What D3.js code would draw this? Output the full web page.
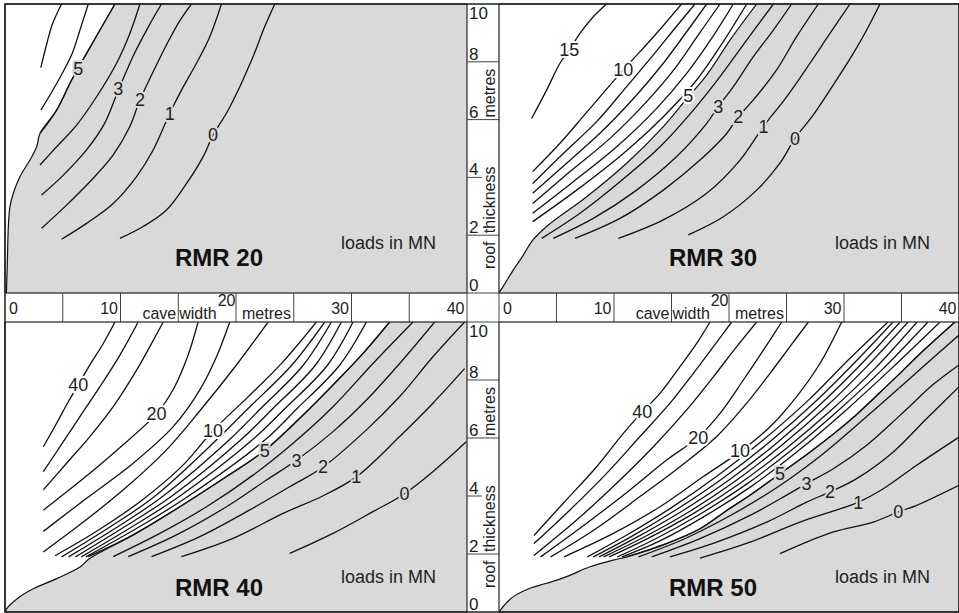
<!DOCTYPE html>
<html><head><meta charset="utf-8">
<script src="https://cdn.jsdelivr.net/npm/d3@7"></script>
<style>
body{margin:0;background:#fff;}
svg{display:block;font-family:"Liberation Sans",Arial,Helvetica,sans-serif;}
</style></head><body>
<svg id="c" width="959" height="613"></svg>
<script>
// ---------- shared axis data ----------
const xTicks = [0, 10, 20, 30, 40];
const xDividers = [5, 10, 15, 20, 25, 30, 35];
const yTicks = [0, 2, 4, 6, 8, 10];
const yDividers = [2, 6, 8];
const yShortDividers = [4];
const panelTitles = ["RMR 20", "RMR 30", "RMR 40", "RMR 50"];
const unitNote = "loads in MN";
const xAxisWords = ["cave", "width", "metres"];
const yAxisWords = ["roof", "thickness", "metres"];

// ---------- RMR 20 ----------
const edge20 = [[0.12,0],[0.2,1.0],[0.29,2.3],[0.43,2.99],[0.72,3.45],[1.30,4.03],[2.16,4.60],[2.74,5.06],[3.03,5.52],[4.47,6.33],[5.77,7.37],[7.06,8.29],[8.22,9.10],[9.52,10]];
const lines20 = [
 [[3.1,7.8],[3.6,8.6],[4.1,9.3],[4.9,10]],
 [[3.11,6.33],[4.47,7.25],[5.77,8.24],[6.49,9.10],[7.21,10]],
 [[3.03,5.52],[4.47,6.33],[5.77,7.37],[7.06,8.29],[8.22,9.10],[9.52,10]],
 [[3.03,4.43],[4.47,5.06],[6.20,5.81],[7.93,6.79],[9.66,7.95],[10.81,8.98],[11.68,10]],
 [[3.17,3.39],[5.05,4.08],[7.06,4.95],[8.6,5.85],[9.8,7.0],[11.1,8.2],[12.4,9.2],[13.55,10]],
 [[3.17,2.24],[5.33,3.04],[7.35,3.85],[9.37,4.78],[10.8,5.75],[11.68,6.68],[12.7,7.55],[14.0,8.6],[15.1,9.4],[16.15,10]],
 [[4.90,1.86],[7.06,2.41],[9.37,3.10],[11.39,4.03],[12.83,4.95],[14.27,6.22],[15.28,7.02],[16.58,7.95],[17.73,8.87],[18.74,10]],
 [[9.95,1.89],[11.97,2.30],[13.98,2.87],[15.72,3.79],[17.16,4.72],[18.02,5.47],[19.17,6.22],[20.33,7.14],[21.48,8.18],[22.49,9.22],[23.36,10]]
];
const labels20 = [["5",6.34,7.77],["3",9.80,7.08],["2",11.68,6.68],["1",14.27,6.22],["0",18.02,5.47]];

// ---------- RMR 30 ----------
const edge30 = [[0,0],[0.52,0.33],[1.25,0.80],[2.12,1.31],[2.84,1.78],[4.14,2.30],[7.62,3.33],[11.10,4.49],[14.29,5.76],[16.46,6.79],[18.06,7.54],[20.09,8.75],[22.41,10]];
const lines30 = [
 [[2.84,6.04],[4.14,7.02],[5.30,7.95],[6.12,8.41],[7.04,8.98],[8.20,9.56],[9.36,10]],
 [[2.93,4.20],[5.30,5.18],[7.62,6.25],[10.81,7.72],[13.4,8.85],[15.88,10]],
 [[2.93,3.79],[5.59,4.83],[8.49,5.93],[11.10,7.14],[13.42,8.24],[15.30,9.16],[17.04,10]],
 [[2.93,3.45],[5.88,4.49],[9.07,5.64],[11.97,6.85],[14.29,7.95],[16.32,9.04],[18.06,10]],
 [[2.93,3.10],[6.17,4.20],[9.65,5.35],[12.84,6.62],[15.30,7.77],[17.33,8.93],[19.22,10]],
 [[2.93,2.76],[6.46,3.85],[10.23,5.06],[13.71,6.39],[16.32,7.60],[18.49,8.81],[20.38,10]],
 [[2.93,2.47],[6.75,3.56],[10.81,4.83],[14.29,6.10],[17.19,7.37],[19.51,8.70],[21.54,10]],
 [[3.71,1.89],[7.04,2.76],[10.52,3.85],[14.00,5.06],[16.90,6.33],[19.22,7.49],[21.54,8.75],[23.86,10]],
 [[4.72,1.89],[8.20,2.58],[11.97,3.56],[15.45,4.72],[18.06,5.87],[19.07,6.45],[20.38,7.14],[22.12,8.18],[23.86,9.10],[25.45,10]],
 [[6.61,1.89],[10.52,2.58],[14.29,3.56],[17.48,4.60],[19.80,5.52],[20.81,6.10],[22.12,6.68],[24.14,7.72],[25.88,8.87],[27.77,10]],
 [[10.38,1.89],[14.29,2.53],[18.06,3.45],[20.96,4.60],[22.99,5.76],[25.01,6.79],[27.04,7.95],[28.78,8.98],[30.52,10]],
 [[16.46,2.01],[19.51,2.64],[22.41,3.56],[24.43,4.49],[25.74,5.35],[27.33,6.16],[29.07,7.20],[30.81,8.29],[31.97,9.10],[33.13,10]]
];
const labels30 = [["15",6.12,8.41],["10",10.81,7.72],["5",16.46,6.85],["3",19.07,6.45],["2",20.81,6.10],["1",22.99,5.76],["0",25.74,5.35]];

// ---------- RMR 40 ----------
const edge40 = [[0.05,0],[0.14,0.11],[1.2,0.5],[2.45,0.80],[4.47,1.15],[6.49,1.55],[7.35,1.85],[11.10,2.66],[15.14,3.63],[19.18,4.67],[22.49,5.57],[25.52,6.68],[28.40,7.83],[31.00,8.92],[33.30,10]];
const lines40 = [
 [[3.32,5.70],[4.47,6.51],[5.48,7.25],[6.34,7.83],[7.35,8.52],[8.51,9.26],[9.52,10]],
 [[3.32,4.84],[4.76,5.70],[6.49,6.74],[8.22,7.77],[9.95,8.86],[11.53,10]],
 [[3.32,4.21],[5.33,5.13],[7.35,6.05],[9.37,7.08],[11.39,8.34],[12.54,9.15],[13.70,10]],
 [[3.32,3.51],[6.78,4.60],[9.66,5.57],[13.12,6.84],[14.6,7.7],[15.8,8.8],[16.72,10]],
 [[3.32,2.78],[7.06,3.92],[11.10,5.13],[14.56,6.39],[16.87,7.66],[18.31,8.80],[19.46,10]],
 [[3.32,2.07],[6.78,3.1],[10.5,4.3],[14,5.6],[17,7.0],[20,8.5],[22.78,10]],
 [[4.33,1.94],[8,2.8],[12,3.9],[15.5,5.1],[18.02,6.26],[21,7.4],[24,8.6],[26.96,10]],
 [[4.9,1.9],[9.35,3],[13.0,4],[18.3,5.93],[21.0,7],[24.8,8.5],[27.68,10]],
 [[5.5,1.9],[10.0,3],[13.7,4],[19.4,5.93],[22.1,7],[25.8,8.5],[28.26,10]],
 [[6.1,1.9],[10.6,3],[14.45,4],[20.4,5.93],[23.15,7],[26.85,8.5],[29.12,10]],
 [[6.6,1.9],[11.25,3],[15.15,4],[21.4,5.93],[24.2,7],[27.9,8.5],[30.13,10]],
 [[7.0,1.9],[11.9,3],[15.9,4],[22.5,5.93],[25.25,7],[28.95,8.5],[31.29,10]],
 [[7.21,1.91],[11.10,2.66],[15.14,3.63],[19.18,4.67],[22.49,5.57],[25.52,6.68],[28.40,7.83],[31.00,8.92],[33.30,10]],
 [[9.37,1.91],[13.41,2.71],[17.45,3.63],[21.48,4.72],[24.94,5.82],[28.40,7.08],[31.86,8.57],[35.32,10]],
 [[10.67,1.91],[14.85,2.66],[19.18,3.63],[22.64,4.55],[25.23,5.23],[28.40,6.22],[31.29,7.31],[34.17,8.57],[37.20,10]],
 [[12.69,1.91],[16.87,2.60],[21.19,3.52],[24.65,4.32],[27.54,5.00],[31.29,6.28],[34.17,7.43],[37.05,8.80],[39.79,10]],
 [[15.28,1.91],[19.75,2.54],[24.08,3.40],[27.5,4.0],[30.42,4.66],[34.17,6.05],[37.05,7.20],[39.79,8.39]],
 [[24.65,2.02],[28.40,2.71],[31.86,3.46],[34.60,4.08],[37.05,4.84],[39.94,5.87]]
];
const labels40 = [["40",6.34,7.83],["20",13.12,6.84],["10",18.02,6.26],["5",22.49,5.57],["3",25.23,5.23],["2",27.54,5.00],["1",30.42,4.66],["0",34.60,4.08]];

// ---------- RMR 50 ----------
const edge50 = [[0,0],[0.5,0.25],[1.25,0.53],[2.7,0.82],[4.14,0.99],[5.88,1.22],[7.91,1.56],[9.94,1.79],[11.10,1.90],[14.5,2.35],[17.48,2.87],[19.8,3.5],[21.83,4.03],[24.43,4.77],[27,5.5],[30.5,6.6],[34,7.9],[37,9.05],[39.65,10]];
const lines50 = [
 [[3.04,2.64],[5.59,3.75],[8.49,5.01],[10.81,6.16],[12.46,6.90],[14.00,7.54],[15.74,8.46],[17.19,9.26],[18.35,10]],
 [[3.04,2.36],[6.17,3.52],[9.36,4.78],[12.26,6.05],[14.87,7.20],[16.90,8.23],[18.64,9.15],[20.23,10]],
 [[3.04,1.95],[6.75,3.17],[10.23,4.44],[13.42,5.70],[16.32,6.97],[18.64,8.11],[20.67,9.15],[22.41,10]],
 [[3.62,1.90],[7.62,3.06],[11.39,4.21],[14.58,5.24],[17.33,6.03],[19.22,6.85],[21.25,8.00],[22.99,9.03],[24.58,10]],
 [[4.49,1.90],[8.49,2.89],[12.26,3.98],[15.74,5.01],[18.93,6.05],[21.54,7.20],[23.57,8.23],[25.30,9.15],[26.90,10]],
 [[5.65,1.90],[9.94,2.71],[14.00,3.63],[17.77,4.67],[20.96,5.53],[23.57,6.39],[25.88,7.43],[27.91,8.57],[29.80,10]],
 [[7.68,1.9],[11,2.63],[15,3.6],[19,4.7],[23,5.94],[27,7.34],[30.5,8.74],[33.83,10]],
 [[8.2,1.9],[11.5,2.6],[15.5,3.55],[19.5,4.62],[23.5,5.85],[27.5,7.25],[31,8.63],[34.26,10]],
 [[8.7,1.9],[12,2.58],[16,3.5],[20,4.55],[24,5.78],[28,7.18],[31.5,8.55],[34.87,10]],
 [[9.1,1.9],[12.5,2.56],[16.5,3.45],[20.5,4.5],[24.5,5.72],[28.5,7.1],[32,8.47],[35.57,10]],
 [[9.57,1.9],[13,2.55],[17,3.42],[21,4.45],[25,5.65],[29,7.0],[32.7,8.4],[36.35,10]],
 [[10.29,1.9],[13.5,2.5],[17.5,3.38],[21.5,4.4],[25.5,5.6],[29.5,6.95],[33.3,8.35],[37.3,10]],
 [[10.7,1.9],[14,2.45],[18,3.33],[22,4.35],[26,5.55],[30,6.9],[34,8.35],[38.35,10]],
 [[11.10,1.90],[14.5,2.35],[17.48,2.87],[19.8,3.5],[21.83,4.03],[24.43,4.77],[27,5.5],[30.5,6.6],[34,7.9],[37,9.05],[39.65,10]],
 [[12.12,1.90],[16,2.5],[20,3.3],[24,4.25],[28,5.4],[32,6.75],[36,8.15],[40,9.55]],
 [[13.28,1.90],[17.48,2.53],[21.83,3.33],[25.01,4.03],[26.75,4.43],[29.07,4.94],[31.97,5.75],[34.87,6.78],[37.77,7.85],[40,8.52]],
 [[14.87,1.90],[18.93,2.41],[23.28,3.10],[26.75,3.79],[28.78,4.14],[31.10,4.60],[34.29,5.52],[37.19,6.67],[40,7.76]],
 [[17.48,1.86],[21.83,2.41],[26.17,3.10],[31.25,3.79],[33.42,4.25],[36.32,5.06],[40,6.03]],
 [[24.43,2.01],[29.07,2.76],[32.55,3.10],[34.72,3.45],[36.32,3.68],[40,4.37]]
];
const labels50 = [["40",12.46,6.90],["20",17.33,6.03],["10",20.96,5.57],["5",24.43,4.77],["3",26.75,4.43],["2",28.78,4.14],["1",31.25,3.79],["0",34.72,3.45]];

// ---------- drawing ----------
const GRAY = "#d9d9d9", INK = "#111", TXT = "#222";
const svg = d3.select("#c");
svg.append("rect").attr("width",959).attr("height",613).attr("fill","#fff");

const panels = [
  {title:panelTitles[0], xr:[5,467],  yr:[293,4],   edge:edge20, lines:lines20, labels:labels20, tdy:27, ndy:44},
  {title:panelTitles[1], xr:[499,959],yr:[293,4],   edge:edge30, lines:lines30, labels:labels30, tdy:27, ndy:44},
  {title:panelTitles[2], xr:[5,467],  yr:[612,322], edge:edge40, lines:lines40, labels:labels40, tdy:16, ndy:29},
  {title:panelTitles[3], xr:[499,959],yr:[612,322], edge:edge50, lines:lines50, labels:labels50, tdy:16, ndy:29}
];
const defs = svg.append("defs");

panels.forEach((p,i)=>{
  const x = d3.scaleLinear().domain([0,40]).range(p.xr);
  const y = d3.scaleLinear().domain([0,10]).range(p.yr);
  defs.append("clipPath").attr("id","clip"+i).append("rect")
    .attr("x",p.xr[0]).attr("y",p.yr[1]).attr("width",p.xr[1]-p.xr[0]).attr("height",p.yr[0]-p.yr[1]);
  const g = svg.append("g").attr("clip-path",`url(#clip${i})`);
  const line = d3.line().x(d=>x(d[0])).y(d=>y(d[1])).curve(d3.curveCatmullRom.alpha(0.5));
  const last = p.edge[p.edge.length-1];
  const tail = [];
  if (last[1] >= 10) tail.push([40,10]);
  tail.push([40,0],[p.edge[0][0],0]);
  const areaD = line(p.edge) + tail.map(d=>"L"+x(d[0])+","+y(d[1])).join("") + "Z";
  g.append("path").attr("d",areaD).attr("fill",GRAY);
  g.append("path").attr("d",line(p.edge)).attr("fill","none").attr("stroke",INK).attr("stroke-width",1.2);
  g.selectAll("path.c").data(p.lines).join("path").attr("class","c")
    .attr("d",line).attr("fill","none").attr("stroke",INK).attr("stroke-width",1.3);
  const poly = p.edge.concat(tail).map(d=>[x(d[0]),y(d[1])]);
  g.selectAll("text.l").data(p.labels).join("text").attr("class","l")
    .attr("x",d=>x(d[1])).attr("y",d=>y(d[2])).attr("dy","0.36em")
    .attr("text-anchor","middle").attr("font-size",18).attr("fill",TXT)
    .attr("stroke",d=>d3.polygonContains(poly,[x(d[1]),y(d[2])])?GRAY:"#fff")
    .attr("stroke-width",4).attr("paint-order","stroke").text(d=>d[0]);
  svg.append("text").attr("x",p.xr[0]+214).attr("y",p.yr[0]-p.tdy)
    .attr("text-anchor","middle").attr("font-size",24).attr("font-weight","bold").attr("fill","#111").text(p.title);
  svg.append("text").attr("x",p.xr[0]+336).attr("y",p.yr[0]-p.ndy)
    .attr("font-size",18).attr("fill",TXT).text(unitNote);
  svg.append("rect").attr("x",p.xr[0]).attr("y",p.yr[1]).attr("width",p.xr[1]-p.xr[0]).attr("height",p.yr[0]-p.yr[1])
    .attr("fill","none").attr("stroke","#222").attr("stroke-width",1.2);

  // x-axis strip (drawn from the top panels' scales)
  if (i < 2) {
    const s0 = 293, s1 = 322;
    const sg = svg.append("g");
    sg.selectAll("line").data(xDividers).join("line")
      .attr("x1",d=>x(d)).attr("x2",d=>x(d)).attr("y1",s0).attr("y2",s1).attr("stroke","#444").attr("stroke-width",1);
    sg.selectAll("text.t").data(xTicks).join("text").attr("class","t")
      .attr("x",d=> d===0 ? x(d)+4 : (d===20 ? x(d)-0.5 : x(d)-2.5))
      .attr("y",d=> d===20 ? 306 : 314)
      .attr("text-anchor",d=> d===0 ? "start" : "end")
      .attr("font-size",16).attr("fill",TXT).text(d=>d);
    sg.append("text").attr("x",x(15)-2).attr("y",319).attr("text-anchor","end").attr("font-size",16).attr("fill",TXT).text(xAxisWords[0]);
    sg.append("text").attr("x",x(15)+1).attr("y",319).attr("font-size",16).attr("fill",TXT).text(xAxisWords[1]);
    sg.append("text").attr("x",x(20)+6).attr("y",319).attr("font-size",16).attr("fill",TXT).text(xAxisWords[2]);
  }
  // y-axis strip (drawn from the left column panels' scales)
  if (i % 2 === 0) {
    const a0 = 467, a1 = 499;
    const yg = svg.append("g");
    yg.selectAll("line.d").data(yDividers).join("line").attr("class","d")
      .attr("x1",a0).attr("x2",a1).attr("y1",d=>y(d)).attr("y2",d=>y(d)).attr("stroke","#444").attr("stroke-width",1);
    yg.selectAll("line.s").data(yShortDividers).join("line").attr("class","s")
      .attr("x1",a0).attr("x2",a0+15).attr("y1",d=>y(d)).attr("y2",d=>y(d)).attr("stroke","#444").attr("stroke-width",1);
    yg.selectAll("text.t").data(yTicks).join("text").attr("class","t")
      .attr("x",a0+2).attr("y",d=> d===10 ? y(d)+15 : y(d)-2)
      .attr("font-size",17).attr("fill",TXT).text(d=>d);
    const rot = (txt, yy) => yg.append("text").attr("transform",`translate(${a0+28},${yy}) rotate(-90)`)
      .attr("font-size",16).attr("fill",TXT).text(txt);
    rot(yAxisWords[0], y(0)-24);
    rot(yAxisWords[1], y(2)-2);
    rot(yAxisWords[2], y(6)-2);
  }
});
svg.append("rect").attr("x",467).attr("y",293).attr("width",32).attr("height",29).attr("fill","none").attr("stroke","#444");
svg.append("rect").attr("x",5).attr("y",4).attr("width",954).attr("height",608).attr("fill","none").attr("stroke","#222").attr("stroke-width",1.5);
</script>
</body></html>
